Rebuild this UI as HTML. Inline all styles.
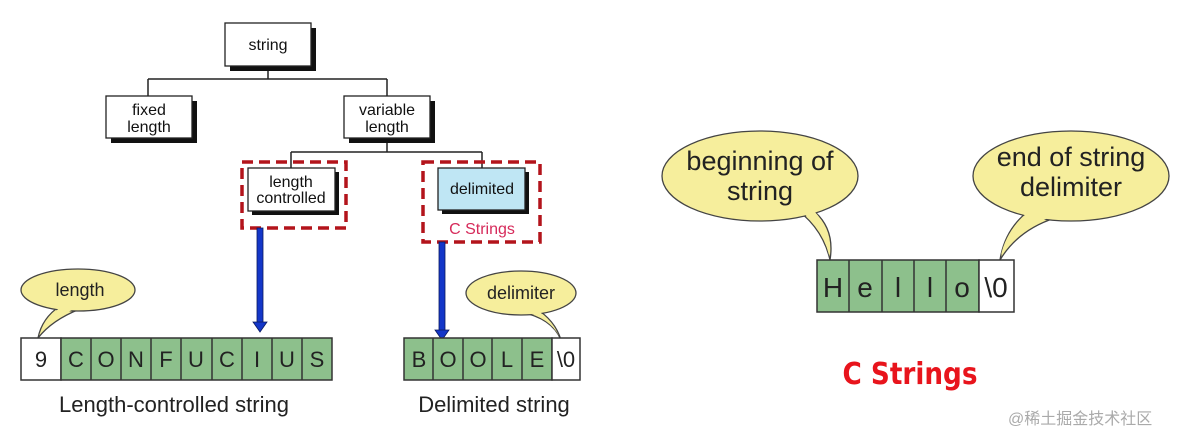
<!DOCTYPE html>
<html><head><meta charset="utf-8"><style>html,body{margin:0;padding:0;background:#fff}svg{display:block}</style></head><body>
<svg width="1183" height="443" viewBox="0 0 1183 443" xmlns="http://www.w3.org/2000/svg" font-family="Liberation Sans, sans-serif">
<rect width="1183" height="443" fill="#fff"/>
<g stroke="#222" stroke-width="1.5" fill="none">
<path d="M268 66V79M148 79H387M148 79V96M387 79V96M387 138V152M291 152H482M291 152V168M482 152V168"/>
</g>
<!-- tree boxes with shadows -->
<g>
<rect x="230" y="28" width="86" height="43" fill="#111"/><rect x="225" y="23" width="86" height="43" fill="#fff" stroke="#222" stroke-width="1.3"/>
<rect x="111" y="101" width="86" height="42" fill="#111"/><rect x="106" y="96" width="86" height="42" fill="#fff" stroke="#222" stroke-width="1.3"/>
<rect x="349" y="101" width="86" height="42" fill="#111"/><rect x="344" y="96" width="86" height="42" fill="#fff" stroke="#222" stroke-width="1.3"/>
<rect x="252" y="172" width="87" height="43" fill="#111"/><rect x="248" y="168" width="87" height="43" fill="#fff" stroke="#222" stroke-width="1.3"/>
<rect x="442" y="172" width="87" height="42" fill="#111"/><rect x="438" y="168" width="87" height="42" fill="#bfe6f4" stroke="#222" stroke-width="1.3"/>
</g>
<g font-size="16" fill="#111" text-anchor="middle">
<text x="268" y="50">string</text>
<text x="149" y="115">fixed</text><text x="149" y="132">length</text>
<text x="387" y="115">variable</text><text x="387" y="132">length</text>
<text x="291" y="187">length</text><text x="291" y="203">controlled</text>
<text x="482" y="194">delimited</text>
</g>
<g fill="none" stroke="#b3141b" stroke-width="3.5" stroke-dasharray="11 6">
<rect x="242" y="162" width="104" height="66"/>
<rect x="423" y="162" width="117" height="80"/>
</g>
<text x="482" y="234" font-size="16" fill="#d62a5a" text-anchor="middle">C Strings</text>
<!-- blue arrows -->
<g fill="#1336c8" stroke="#0a1a60" stroke-width="0.8">
<rect x="257" y="228" width="6" height="96"/><path d="M253 322H267L260 332Z"/>
<rect x="439" y="242" width="6" height="90"/><path d="M435 330H449L442 340Z"/>
</g>
<!-- bubbles left -->
<g fill="#f6ee9c" stroke="#444" stroke-width="1.3">
<path d="M60 306 Q42 318 38 338 Q52 320 80 309Z"/>
<ellipse cx="78" cy="290" rx="57" ry="21"/>
<path d="M535 308 Q555 320 561 340 Q552 318 520 312Z"/>
<ellipse cx="521" cy="293" rx="55" ry="22"/>
<path d="M790 205 Q822 225 830 260 Q835 230 815 212Z"/>
<ellipse cx="760" cy="176" rx="98" ry="45"/>
<path d="M1030 210 Q1005 228 1000 260 Q1018 230 1055 218Z"/>
<ellipse cx="1071" cy="176" rx="98" ry="45"/>
</g>
<g fill="#f6ee9c">
<path d="M62 306 Q46 318 40 334 Q54 318 78 307Z"/>
<path d="M533 307 Q552 320 559 336 Q550 318 522 311Z"/>
<path d="M792 204 Q822 225 829 255 Q833 230 813 210Z"/>
<path d="M1032 209 Q1007 228 1001 255 Q1018 230 1053 216Z"/>
</g>
<g fill="#222" text-anchor="middle">
<text x="80" y="296" font-size="18">length</text>
<text x="521" y="299" font-size="18">delimiter</text>
<text x="760" y="170" font-size="27">beginning of</text>
<text x="760" y="200" font-size="27">string</text>
<text x="1071" y="166" font-size="27">end of string</text>
<text x="1071" y="196" font-size="27">delimiter</text>
</g>
<!-- cells -->
<g stroke="#333" stroke-width="1.5">
<rect x="21" y="338" width="40" height="42" fill="#fff"/>
<rect x="61" y="338" width="271" height="42" fill="#8dc08c"/>
<path d="M91 338V380M121 338V380M151 338V380M181 338V380M212 338V380M242 338V380M272 338V380M302 338V380" fill="none"/>
<rect x="404" y="338" width="148" height="42" fill="#8dc08c"/>
<rect x="552" y="338" width="28" height="42" fill="#fff"/>
<path d="M433 338V380M463 338V380M492 338V380M522 338V380" fill="none"/>
<rect x="817" y="260" width="162" height="52" fill="#8dc08c"/>
<rect x="979" y="260" width="35" height="52" fill="#fff"/>
<path d="M849 260V312M882 260V312M914 260V312M946 260V312" fill="none"/>
</g>
<g fill="#222" font-size="22" text-anchor="middle">
<text x="41" y="367">9</text>
<text x="76" y="367">C</text><text x="106" y="367">O</text><text x="136" y="367">N</text><text x="166" y="367">F</text><text x="196" y="367">U</text><text x="227" y="367">C</text><text x="257" y="367">I</text><text x="287" y="367">U</text><text x="317" y="367">S</text>
<text x="419" y="367">B</text><text x="448" y="367">O</text><text x="478" y="367">O</text><text x="507" y="367">L</text><text x="537" y="367">E</text><text x="566" y="367">\0</text>
<text x="833" y="297" font-size="28">H</text><text x="865" y="297" font-size="28">e</text><text x="898" y="297" font-size="28">l</text><text x="930" y="297" font-size="28">l</text><text x="962" y="297" font-size="28">o</text><text x="996" y="297" font-size="28">\0</text>
<text x="174" y="412">Length-controlled string</text>
<text x="494" y="412">Delimited string</text>
</g>
<text x="910" y="384" font-size="30" font-weight="bold" fill="#e8141c" text-anchor="middle" font-family="DejaVu Sans, sans-serif" textLength="135" lengthAdjust="spacingAndGlyphs">C Strings</text>
<text x="1008" y="424" font-size="16" fill="#aaa" font-family="Liberation Sans, Noto Sans CJK SC, sans-serif">@稀土掘金技术社区</text>
</svg>
</body></html>
